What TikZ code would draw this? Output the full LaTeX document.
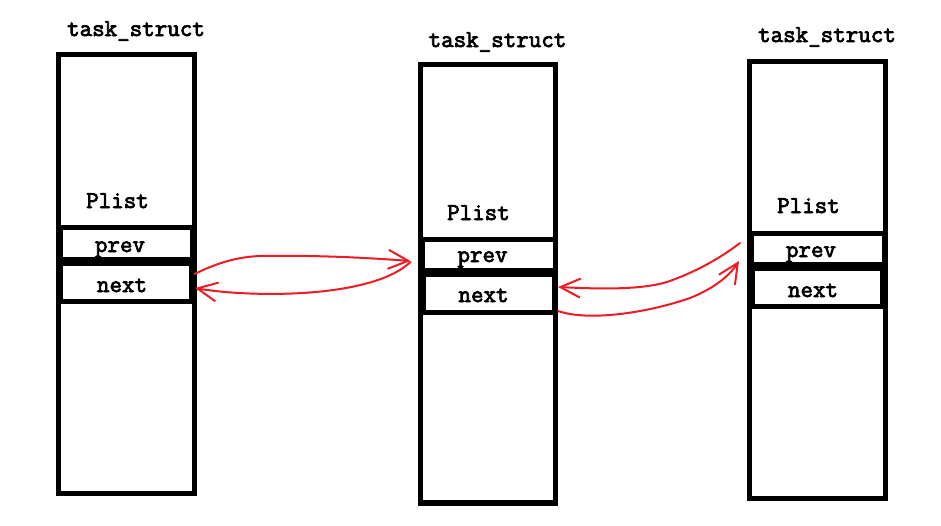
\documentclass[tikz,border=0pt]{standalone}
\usepackage{fontspec}
\usetikzlibrary{arrows.meta,calc}
\definecolor{paintred}{RGB}{237,28,36}
\newfontfamily\labelfont[FakeBold=3]{Latin Modern Mono}
\begin{document}
\begin{tikzpicture}[x=1pt,y=-1pt,
  outerbox/.style={draw, line width=5.5pt, rectangle, inner sep=0pt, outer sep=0pt},
  field/.style={draw, line width=5.5pt, rectangle, inner sep=0pt, outer sep=0pt},
  txt/.style={anchor=base, inner sep=0pt, font=\labelfont\fontsize{24.3}{24.3}\selectfont},
  link/.style={draw=paintred, line width=2pt, line cap=round, line join=round},
  tipA/.style={-{Straight Barb[length=20pt,width=19pt,line width=2pt]}}]
\useasboundingbox (0,0) rectangle (941,525);
\fill[white] (0,0) rectangle (941,525);
% outer boxes
\node[outerbox, minimum width=136pt, minimum height=439pt] (t1) at (126.5,274) {};
\node[outerbox, minimum width=135pt, minimum height=438.5pt] (t2) at (488,283.75) {};
\node[outerbox, minimum width=136pt, minimum height=437pt] (t3) at (817.5,280) {};
% fields
\node[field, minimum width=132pt, minimum height=32pt] (p1) at (126.5,243.5) {};
\node[field, minimum width=131pt, minimum height=38pt] (n1) at (126,282.5) {};
\node[field, minimum width=133pt, minimum height=31pt] (p2) at (489,255) {};
\node[field, minimum width=131pt, minimum height=38pt] (n2) at (489,293.5) {};
\node[field, minimum width=133pt, minimum height=31pt] (p3) at (818,249) {};
\node[field, minimum width=130pt, minimum height=38pt] (n3) at (817.5,287.5) {};
% texts
\node[txt] (h1) at (136,36) {task\_struct};
\node[txt] (h2) at (497.5,47) {task\_struct};
\node[txt] (h3) at (827,42) {task\_struct};
\node[txt] (l1) at (117.5,208) {Plist};
\node[txt] (l2) at (478.5,220) {Plist};
\node[txt] (l3) at (808.5,213) {Plist};
\node[txt] (pt1) at (120,252) {prev};
\node[txt] (nt1) at (122,292) {next};
\node[txt] (pt2) at (482.5,262) {prev};
\node[txt] (nt2) at (483.5,302) {next};
\node[txt] (pt3) at (811,257) {prev};
\node[txt] (nt3) at (813,297) {next};
% red links
\draw[link, tipA] ($(n1.east)+(3,-8.5)$) .. controls (215,264) and (235,257) .. (260,256)
   .. controls (320,255) and (370,258) .. ($(p2.west)+(-12,6)$);
\draw[link, tipA] ($(p2.west)+(-12,7)$) .. controls (370,300) and (245,297) .. ($(n1.east)+(3.5,5.5)$);
\draw[link, tipA] ($(p3.west)+(-11.5,-6)$) .. controls (715,262) and (690,274) .. (667,282)
   .. controls (640,290) and (600,289) .. ($(n2.east)+(3.5,-6.5)$);
\draw[link, tipA] ($(n2.east)+(3.5,17.5)$) .. controls (590,322) and (650,312) .. (690,298)
   .. controls (715,288) and (730,275) .. ($(p3.west)+(-12.5,12)$);
\end{tikzpicture}
\end{document}
